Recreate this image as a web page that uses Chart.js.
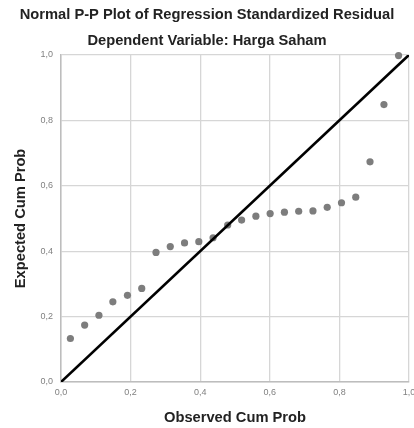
<!DOCTYPE html>
<html>
<head>
<meta charset="utf-8">
<script src="https://cdn.jsdelivr.net/npm/chart.js@4"></script>
<style>
	html, body { margin: 0; padding: 0; background: #fff; }
	#wrap { width: 414px; height: 428px; }
</style>
</head>
<body>
<div id="wrap"><canvas id="chart_pp"></canvas></div>
<script>
// Normal P-P plot
let observed = [0.027, 0.068, 0.109, 0.149, 0.191, 0.232, 0.273, 0.314, 0.355, 0.396, 0.437, 0.479,
	0.519, 0.560, 0.601, 0.642, 0.683, 0.724, 0.765, 0.806, 0.847, 0.888, 0.928, 0.970];
let expected = [0.133, 0.174, 0.204, 0.245, 0.265, 0.286, 0.396, 0.414, 0.425, 0.429, 0.441, 0.480,
	0.495, 0.507, 0.515, 0.519, 0.522, 0.523, 0.534, 0.548, 0.565, 0.673, 0.848, 0.998];
let diagonal = [0, 1];
let tickValues = [0, 0.2, 0.4, 0.6, 0.8, 1.0];
let tickLabels = ['0,0', '0,2', '0,4', '0,6', '0,8', '1,0'];

let puntos = [];
observed.map((x, i) =>
	puntos.push({x: x, y: expected[i]})
)
let linea = [];
diagonal.map(v =>
	linea.push({x: v, y: v})
)

let fuente = "'Liberation Sans', Arial, sans-serif";

let etiqueta = (value) => {
	let idx = tickValues.findIndex(t => Math.abs(t - value) < 1e-6);
	return idx >= 0 ? tickLabels[idx] : '';
};

let ctx = document.getElementById("chart_pp");
new Chart(ctx, {
	type: 'scatter',
	data: {
		datasets: [
			{
				type: 'line',
				data: linea,
				borderColor: '#000',
				borderWidth: 2.6,
				pointRadius: 0,
				order: 0
			},
			{
				data: puntos,
				backgroundColor: '#7d7d7d',
				borderWidth: 0,
				pointRadius: 3.6,
				clip: false,
				order: 1
			}
		]
	},
	options: {
		responsive: true,
		maintainAspectRatio: false,
		animation: false,
		layout: { padding: { left: 0, right: 0, top: 0, bottom: 0 } },
		plugins: {
			legend: { display: false },
			tooltip: { enabled: false },
			title: {
				display: true,
				text: 'Normal P-P Plot of Regression Standardized Residual',
				color: '#222',
				font: { family: fuente, size: 14.7, weight: 'bold' },
				padding: { top: 6, bottom: 8.4 }
			},
			subtitle: {
				display: true,
				text: 'Dependent Variable: Harga Saham',
				color: '#222',
				font: { family: fuente, size: 14.7, weight: 'bold' },
				padding: { top: 0, bottom: 5.2 }
			}
		},
		scales: {
			x: {
				type: 'linear',
				min: 0,
				max: 1,
				afterBuildTicks: (scale) => { scale.ticks = tickValues.map(v => ({value: v})); },
				afterFit: (scale) => { scale.height = 46; scale.paddingRight = 5; },
				border: { color: '#bdbdbd', width: 1.5 },
				grid: { color: '#d6d6d6', lineWidth: 1.3, drawTicks: false },
				ticks: {
					callback: etiqueta,
					color: '#808080',
					padding: 5,
					maxRotation: 0,
					font: { family: fuente, size: 9 }
				},
				title: {
					display: true,
					text: 'Observed Cum Prob',
					color: '#222',
					font: { family: fuente, size: 14.7, weight: 'bold' },
					padding: { top: 0, bottom: 1 }
				}
			},
			y: {
				type: 'linear',
				min: 0,
				max: 1,
				afterBuildTicks: (scale) => { scale.ticks = tickValues.map(v => ({value: v})); },
				afterFit: (scale) => { scale.width = 61; },
				border: { color: '#bdbdbd', width: 1.5 },
				grid: { color: '#d6d6d6', lineWidth: 1.3, drawTicks: false },
				ticks: {
					callback: etiqueta,
					color: '#808080',
					padding: 8,
					font: { family: fuente, size: 9 }
				},
				title: {
					display: true,
					text: 'Expected Cum Prob',
					color: '#222',
					font: { family: fuente, size: 14.7, weight: 'bold' },
					padding: { top: 12, bottom: 0 }
				}
			}
		}
	}
});
</script>
</body>
</html>
